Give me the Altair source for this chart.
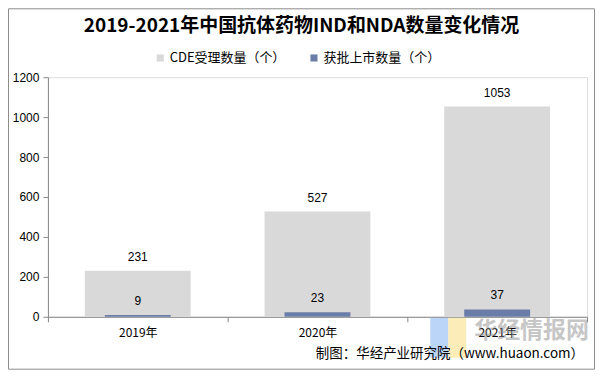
import altair as alt
import pandas as pd

years = ["2019年", "2020年", "2021年"]
cde = [231, 527, 1053]
approved = [9, 23, 37]
series = ["CDE受理数量（个）", "获批上市数量（个）"]
colors = ["#D9D9D9", "#6A7DA8"]
y_ticks = [0, 200, 400, 600, 800, 1000, 1200]
title_text = "2019-2021年中国抗体药物IND和NDA数量变化情况"
source_text = "制图：华经产业研究院（www.huaon.com）"
watermark_text = "华经情报网"

rows = []
for yr, a, b in zip(years, cde, approved):
    rows.append({"year": yr, "series": series[0], "value": a})
    rows.append({"year": yr, "series": series[1], "value": b})
df = pd.DataFrame(rows)

FONT = "Noto Sans CJK SC"
NUMFONT = "Liberation Sans"

x = alt.X("year:N", sort=years, title=None,
          scale=alt.Scale(paddingInner=0, paddingOuter=0),
          axis=alt.Axis(labelAngle=0, tickBand="extent", labelFont=FONT,
                        labelFontSize=12, labelColor="#000000", labelPadding=6,
                        tickSize=5, domainColor="#888888", tickColor="#888888"))
y = alt.Y("value:Q", title=None, scale=alt.Scale(domain=[0, 1200]),
          axis=alt.Axis(values=y_ticks, format="d", grid=False, labelFont=NUMFONT,
                        labelFontSize=12, labelColor="#000000", tickSize=5,
                        labelPadding=4, domainColor="#888888", tickColor="#888888"))
color = alt.Color("series:N", scale=alt.Scale(domain=series, range=colors),
                  legend=alt.Legend(orient="none", legendX=106, legendY=-26,
                                    direction="horizontal", title=None,
                                    symbolType="square", symbolSize=50,
                                    symbolStrokeWidth=0,
                                    labelFont=FONT, labelFontSize=13,
                                    labelColor="#000000", columnPadding=22,
                                    labelOffset=3))

base = alt.Chart(df)
gray = base.transform_filter(alt.datum.series == series[0])
blue = base.transform_filter(alt.datum.series == series[1])

gray_bar = gray.mark_bar(width=106).encode(x=x, y=y, color=color)
blue_bar = blue.mark_bar(width=66).encode(x=x, y=y, color=color)
gray_txt = gray.mark_text(dy=-14, font=NUMFONT, fontSize=12, color="#000000").encode(
    x=x, y=y, text="value:Q")
blue_txt = blue.mark_text(dy=-14, font=NUMFONT, fontSize=12, color="#000000").encode(
    x=x, y=y, text="value:Q")

one = alt.Chart(pd.DataFrame({"t": [source_text]}))
source = one.mark_text(font=FONT, fontSize=13.5, color="#000000", align="right",
                       baseline="middle").encode(
    text="t:N", x=alt.value(537), y=alt.value(277))

title = alt.Chart(pd.DataFrame({"t": [title_text]})).mark_text(
    font=FONT, fontSize=19, fontWeight="bold", color="#000000", align="center",
    baseline="middle").encode(text="t:N", x=alt.value(254), y=alt.value(-51))

wm = alt.Chart(pd.DataFrame({"t": [watermark_text]})).mark_text(
    font=FONT, fontSize=23, fontWeight="bold", color="#8f8f8f", opacity=0.5,
    align="left", baseline="middle").encode(
    text="t:N", x=alt.value(427), y=alt.value(254))
icon_b = one.mark_rect(color="#9cc3f5", opacity=0.7).encode(
    x=alt.value(383), x2=alt.value(401), y=alt.value(241), y2=alt.value(281))
icon_y = one.mark_rect(color="#fbe59a", opacity=0.7).encode(
    x=alt.value(401), x2=alt.value(419), y=alt.value(241), y2=alt.value(281))

border = one.mark_rect(filled=False, stroke="#8c8c8c", strokeWidth=1).encode(
    x=alt.value(-39.5), x2=alt.value(547.5), y=alt.value(-68.5), y2=alt.value(292.5))

chart = alt.layer(gray_bar, blue_bar, gray_txt, blue_txt, icon_b, icon_y, wm,
                  source, title, border).properties(
    width=540, height=240,
    autosize=alt.AutoSizeParams(type="none"),
    padding={"left": 40, "top": 69, "right": 8, "bottom": 56},
).configure_view(stroke=None).configure(background="white")

chart.save("out.html", embed_options={"renderer": "svg", "actions": False})
